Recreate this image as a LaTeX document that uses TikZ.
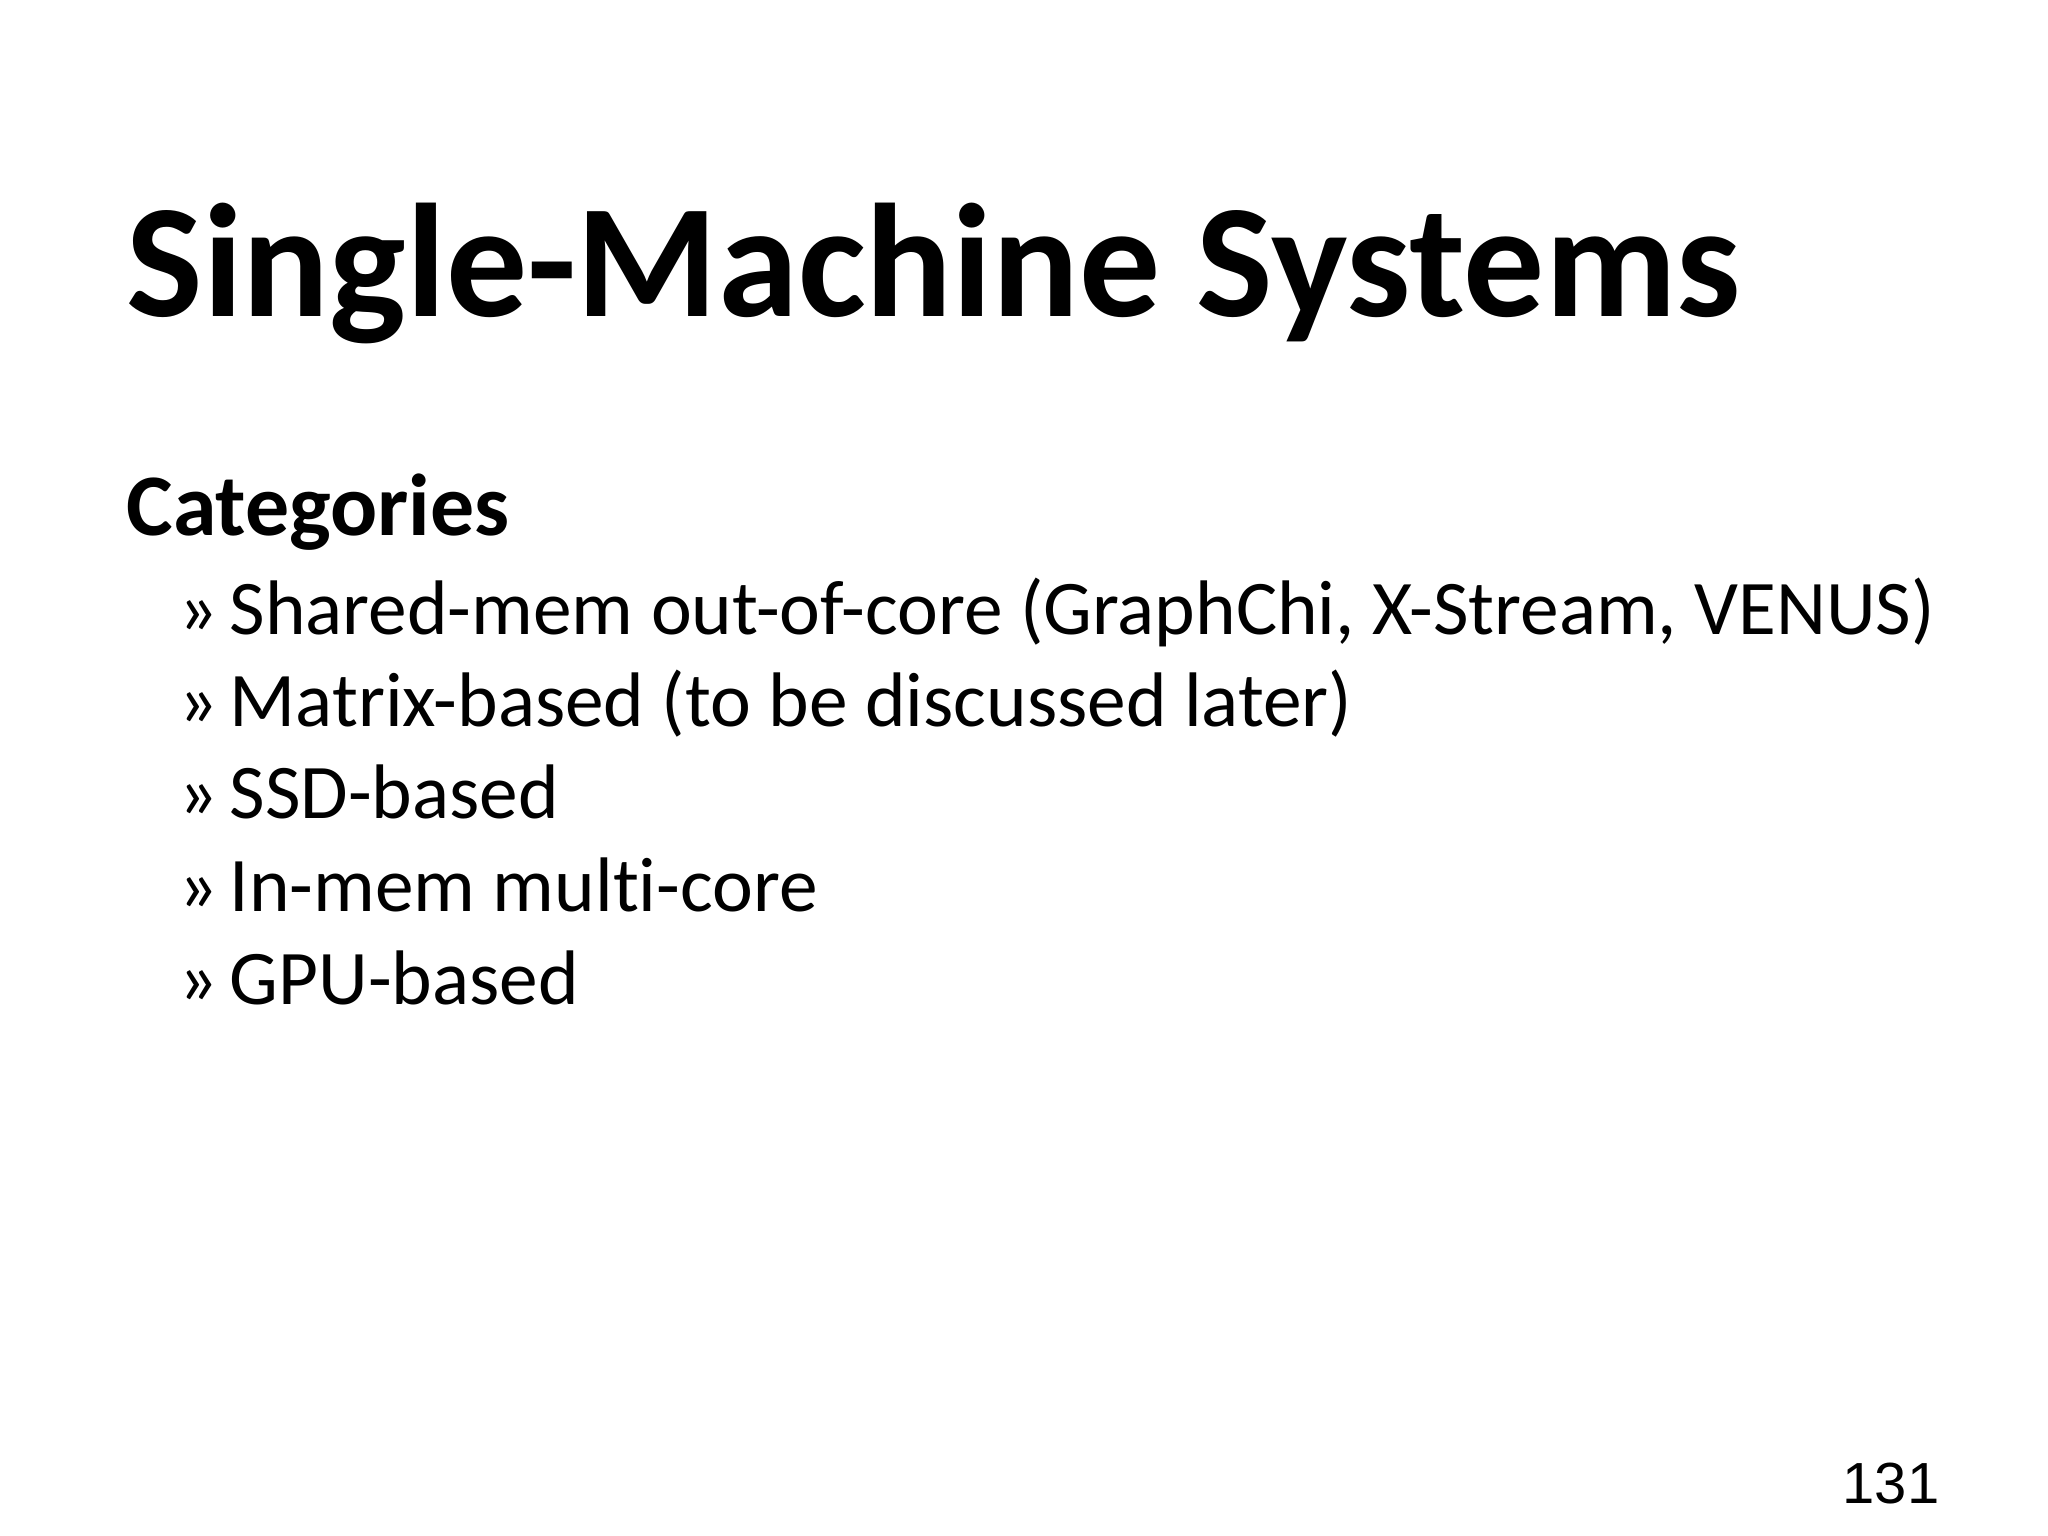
\documentclass[tikz,border=0pt]{standalone}
\usepackage{fontspec}
\setmainfont{Carlito}[Ligatures=NoCommon]
\newfontfamily\numfont{Liberation Sans}
\begin{document}
\begin{tikzpicture}[x=1cm,y=-1cm,
  item/.style={anchor=base west,inner sep=0pt,font=\fontsize{22}{26}\selectfont},
  bulletmk/.style={anchor=base west,inner sep=0pt,font=\fontsize{22}{26}\selectfont}]
\useasboundingbox[fill=white] (0,0) rectangle (20.48,15.36);
\node[anchor=base west,inner sep=0pt,font=\fontsize{46}{50}\selectfont\bfseries] (title) at (1.26,3.17) {Single-Machine Systems};
\node[anchor=base west,inner sep=0pt,font=\fontsize{25}{30}\selectfont\bfseries] (cat) at (1.26,5.35) {Categories};
\foreach \t [count=\i] in {{Shared-mem out-of-core (GraphChi, X-Stream, VENUS)},{Matrix-based (to be discussed later)},SSD-based,In-mem multi-core,GPU-based}{
  \node[bulletmk] (m\i) at (1.78,{6.34+(\i-1)*0.925}) {»};
  \node[item] (i\i) at (2.29,{6.34+(\i-1)*0.925}) {\t};
}
\node[anchor=base east,inner sep=0pt,font=\fontsize{16.5}{20}\selectfont\numfont] (pg) at (19.40,15.03) {131};
\end{tikzpicture}
\end{document}
